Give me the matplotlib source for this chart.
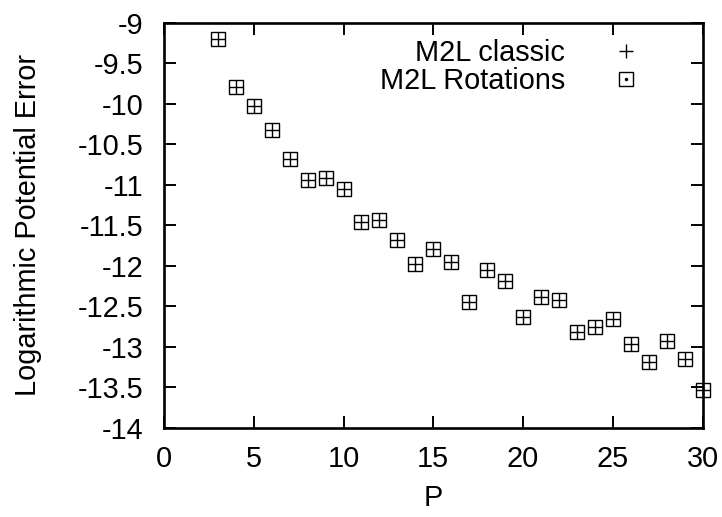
import numpy as np
import matplotlib
matplotlib.use("Agg")
import matplotlib.pyplot as plt
from matplotlib.lines import Line2D

plt.rcParams['font.family'] = ['Liberation Sans', 'DejaVu Sans']

# data
p_values = [3, 4, 5, 6, 7, 8, 9, 10, 11, 12, 13, 14, 15, 16, 17, 18, 19, 20,
            21, 22, 23, 24, 25, 26, 27, 28, 29, 30]
err_classic = [-9.20, -9.79, -10.03, -10.33, -10.68, -10.94, -10.92, -11.05,
               -11.46, -11.43, -11.68, -11.98, -11.79, -11.95, -12.44, -12.05,
               -12.19, -12.63, -12.39, -12.42, -12.82, -12.76, -12.65, -12.97,
               -13.18, -12.93, -13.15, -13.53]
err_rotations = list(err_classic)

xticks = [0, 5, 10, 15, 20, 25, 30]
yticks = [-14, -13.5, -13, -12.5, -12, -11.5, -11, -10.5, -10, -9.5, -9]

fs = 20.8

fig = plt.figure(figsize=(7.22, 5.17), dpi=100)
ax = fig.add_axes([0.2271, 0.1721, 0.7461, 0.7843])

ms = 9.8
ax.plot(p_values, err_classic, linestyle="none", marker="+", markersize=ms,
        markeredgewidth=1.0, color="black", clip_on=False, zorder=3)
ax.plot(p_values, err_rotations, linestyle="none", marker="s", markersize=ms,
        markeredgewidth=1.0, markerfacecolor="none", color="black",
        clip_on=False, zorder=3)

ax.set_xlim(0, 30)
ax.set_ylim(-14, -9)
ax.set_xticks(xticks)
ax.set_yticks(yticks)
ax.set_xticklabels([str(t) for t in xticks])
ax.set_yticklabels([("%g" % t) for t in yticks])

ax.tick_params(direction="in", length=8.6, width=1.4, labelsize=fs,
               top=True, right=True)
ax.tick_params(axis="y", pad=15)
ax.tick_params(axis="x", pad=12)
for s in ax.spines.values():
    s.set_linewidth(1.9)

ax.set_xlabel("P", fontsize=fs)
ax.set_ylabel("Logarithmic Potential Error", fontsize=fs)
ax.xaxis.set_label_coords(0.5, -0.139)
ax.yaxis.set_label_coords(-0.2265, 0.5)

# legend
h_classic = Line2D([], [], linestyle="none", marker="+", markersize=ms + 0.6,
                   markeredgewidth=1.0, color="black")
h_sq = Line2D([], [], linestyle="none", marker="s", markersize=ms,
              markeredgewidth=1.0, markerfacecolor="none", color="black")
h_dot = Line2D([], [], linestyle="none", marker="o", markersize=1.5,
               color="black")
ax.legend([h_classic, (h_sq, h_dot)], ["M2L classic", "M2L Rotations"],
          loc="upper right", frameon=False, markerfirst=False, fontsize=fs,
          handlelength=1.0, handletextpad=1.6, labelspacing=0.0,
          borderaxespad=0.0, bbox_to_anchor=(0.906, 0.988))

fig.savefig("out.png", dpi=100)
